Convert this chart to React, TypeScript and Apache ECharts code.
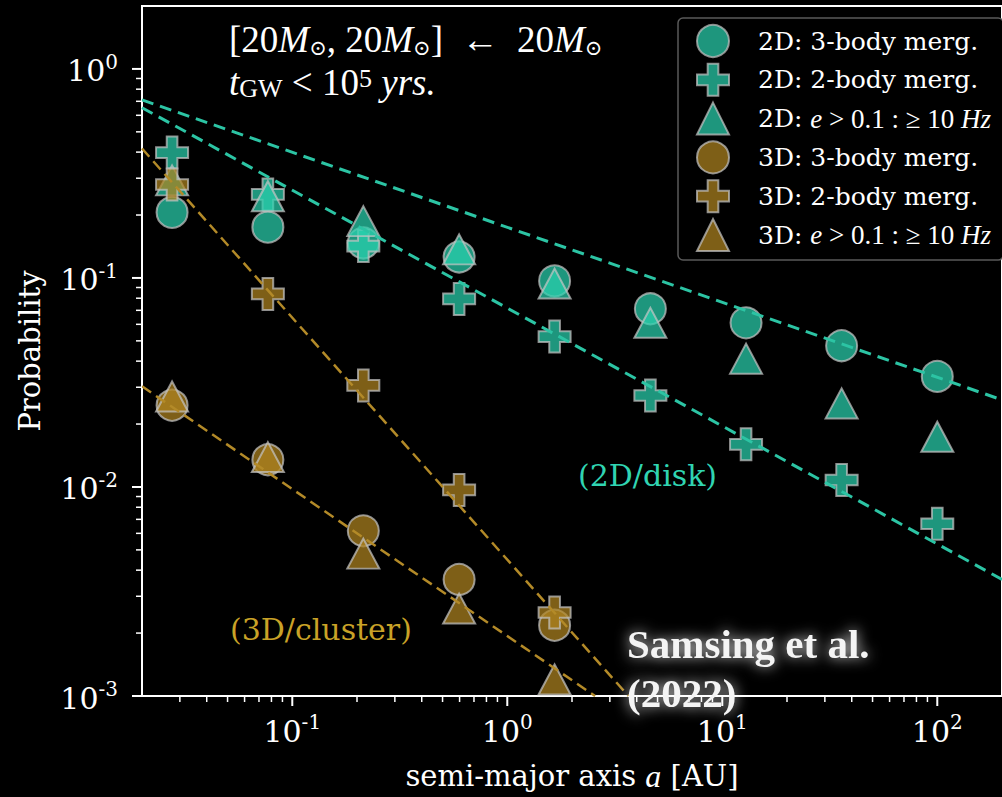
import React, { useEffect, useRef } from "react";
import * as echarts from "echarts";

// ---- data ----
const A_VALUES = [0.0276, 0.077, 0.214, 0.597, 1.66, 4.63, 12.9, 35.9, 100];
const P_2D_3BODY = [0.206, 0.175, 0.147, 0.126, 0.0968, 0.0712, 0.061, 0.0474, 0.0338];
const P_2D_2BODY = [0.398, 0.251, 0.142, 0.0794, 0.0524, 0.0274, 0.016, 0.0108, 0.00667];
const P_2D_ECC = [0.293, 0.246, 0.187, 0.137, 0.094, 0.061, 0.0411, 0.0251, 0.0174];
const P_3D_3BODY = [0.0246, 0.0135, 0.00617, 0.00361, 0.00218];
const P_3D_2BODY = [0.28, 0.0839, 0.0306, 0.00968, 0.00251];
const P_3D_ECC = [0.0271, 0.0139, 0.0048, 0.00262, 0.0012];

// dashed power-law guide lines (endpoints in data units)
const FIT_2D_3BODY = [[0.02, 0.711], [200, 0.0261]];
const FIT_2D_2BODY = [[0.02, 0.652], [200, 0.00361]];
const FIT_3D_2BODY = [[0.02, 0.416], [3.66, 0.001]];
const FIT_3D_3BODY = [[0.02, 0.0303], [2.56, 0.001]];

const X_MIN = 0.02;
const X_MAX = 200;
const Y_MIN = 0.001;
const Y_MAX = 2;
const X_MAJOR = [0.1, 1, 10, 100];
const Y_MAJOR = [0.001, 0.01, 0.1, 1];
const X_MINOR = [
  0.03, 0.04, 0.05, 0.06, 0.07, 0.08, 0.09,
  0.2, 0.3, 0.4, 0.5, 0.6, 0.7, 0.8, 0.9,
  2, 3, 4, 5, 6, 7, 8, 9,
  20, 30, 40, 50, 60, 70, 80, 90,
];
const Y_MINOR = [
  0.002, 0.003, 0.004, 0.005, 0.006, 0.007, 0.008, 0.009,
  0.02, 0.03, 0.04, 0.05, 0.06, 0.07, 0.08, 0.09,
  0.2, 0.3, 0.4, 0.5, 0.6, 0.7, 0.8, 0.9,
];

const NAMES = [
  "2D: 3-body merg.",
  "2D: 2-body merg.",
  "2D: e > 0.1 : ≥ 10 Hz",
  "3D: 3-body merg.",
  "3D: 2-body merg.",
  "3D: e > 0.1 : ≥ 10 Hz",
];

const SERIF = "DejaVu Serif";
const MATH = "Liberation Serif";
const TEAL = "#2ad0ad";
const GOLD = "#ae8420";
const TEAL_LINE = "#2cc4a4";
const GOLD_LINE = "#b38a28";
const PLUS = "path://M1,0H2V1H3V2H2V3H1V2H0V1H1Z";

const pts = (ps: number[]) => ps.map((p, i) => [A_VALUES[i], p]);

const scatter = (name: string, ps: number[], symbol: string, size: any, color: string) => ({
  name,
  type: "scatter",
  data: pts(ps),
  symbol,
  symbolSize: size,
  itemStyle: { color, opacity: 0.72, borderColor: "#c4c4c4", borderWidth: 2 },
  emphasis: { disabled: true },
  z: 2,
});

const fit = (data: number[][], color: string, width: number, dash: number[]) => ({
  type: "line",
  data,
  symbol: "none",
  showSymbol: false,
  silent: true,
  clip: true,
  lineStyle: { color, width, type: dash },
  z: 5,
});

// axis ticks placed through the axes' own scales
const ticks = (vals: number[], horizontal: boolean, len: number, width: number) => ({
  type: "scatter",
  silent: true,
  clip: false,
  z: 6,
  data: vals.map((v) => (horizontal ? [v, Y_MIN] : [X_MIN, v])),
  symbol: "rect",
  symbolSize: horizontal ? [width, len] : [len, width],
  symbolOffset: horizontal ? [0, len / 2] : [-len / 2, 0],
  itemStyle: { color: "#fff", opacity: 1 },
  emphasis: { disabled: true },
});

const powLabel = (v: number) => {
  const e = Math.round(Math.log10(v));
  return `{b|10}{s|${e}}`;
};
const labelRich = {
  b: { fontFamily: SERIF, fontSize: 30, color: "#fff", lineHeight: 34, verticalAlign: "bottom" },
  s: { fontFamily: SERIF, fontSize: 20, color: "#fff", lineHeight: 20, verticalAlign: "top" },
};

export default function App() {
  const ref = useRef<HTMLDivElement>(null);
  useEffect(() => {
    document.body.style.margin = "0";
    document.body.style.background = "#000";
    const chart = echarts.init(ref.current!, null, { renderer: "svg" });
    const axisLine = { color: "#fff", width: 2 };
    const legendRich = {
      sp: { width: 24, lineHeight: 28 },
      t: { fontFamily: SERIF, fontSize: 25, color: "#fff", lineHeight: 28 },
      m: { fontFamily: MATH, fontSize: 27, color: "#fff", lineHeight: 28 },
      i: { fontFamily: MATH, fontSize: 27, fontStyle: "italic", color: "#fff", lineHeight: 28 },
    };
    const option: any = {
      animation: false,
      backgroundColor: "#000",
      grid: {
        left: 142,
        right: -12,
        top: 6,
        bottom: 98,
        show: true,
        borderColor: "#fff",
        borderWidth: 2,
        backgroundColor: "transparent",
      },
      xAxis: {
        type: "log",
        logBase: 10,
        min: X_MIN,
        max: X_MAX,
        axisLine: { show: true, lineStyle: axisLine },
        axisTick: { show: false },
        axisLabel: { customValues: X_MAJOR, formatter: powLabel, rich: labelRich, margin: 16 },
        splitLine: { show: false },
        minorTick: { show: false },
        name: "semi-major axis {i|a} [AU]",
        nameLocation: "middle",
        nameGap: 64,
        nameTextStyle: {
          fontFamily: SERIF,
          fontSize: 29,
          color: "#fff",
          rich: { i: { fontFamily: MATH, fontStyle: "italic", fontSize: 32, color: "#fff" } },
        },
      },
      yAxis: {
        type: "log",
        logBase: 10,
        min: Y_MIN,
        max: Y_MAX,
        axisLine: { show: true, lineStyle: axisLine },
        axisTick: { show: false },
        axisLabel: { customValues: Y_MAJOR, formatter: powLabel, rich: labelRich, margin: 24 },
        splitLine: { show: false },
        name: "Probability",
        nameLocation: "middle",
        nameGap: 98,
        nameTextStyle: { fontFamily: SERIF, fontSize: 29, color: "#fff" },
      },
      legend: {
        data: NAMES,
        orient: "vertical",
        left: 678,
        top: 18,
        itemWidth: 32,
        itemHeight: 32,
        itemGap: 4.8,
        padding: [6, 12, 8, 18],
        backgroundColor: "#000",
        borderColor: "#5a5a5a",
        borderWidth: 1.5,
        borderRadius: 5,
        selectedMode: false,
        formatter: (name: string) => {
          if (name.indexOf("Hz") >= 0) {
            return `{sp| }{t|${name.slice(0, 4)}}{i|e}{m| > 0.1 : ≥ 10 }{i|Hz}`;
          }
          return `{sp| }{t|${name}}`;
        },
        textStyle: {
          color: "#fff",
          fontFamily: SERIF,
          fontSize: 25,
          lineHeight: 28,
          rich: legendRich,
        },
      },
      series: [
        fit(FIT_2D_3BODY, TEAL_LINE, 3, [12, 7]),
        fit(FIT_2D_2BODY, TEAL_LINE, 3, [12, 7]),
        fit(FIT_3D_2BODY, GOLD_LINE, 2.5, [11, 6]),
        fit(FIT_3D_3BODY, GOLD_LINE, 2.5, [11, 6]),
        scatter(NAMES[0], P_2D_3BODY, "circle", 31, TEAL),
        scatter(NAMES[1], P_2D_2BODY, PLUS, 32, TEAL),
        scatter(NAMES[2], P_2D_ECC, "triangle", [32, 30], TEAL),
        scatter(NAMES[3], P_3D_3BODY, "circle", 31, GOLD),
        scatter(NAMES[4], P_3D_2BODY, PLUS, 32, GOLD),
        scatter(NAMES[5], P_3D_ECC, "triangle", [32, 30], GOLD),
        ticks(X_MAJOR, true, 10, 2),
        ticks(Y_MAJOR, false, 10, 2),
        ticks(X_MINOR, true, 6, 1.5),
        ticks(Y_MINOR, false, 6, 1.5),
      ],
      graphic: [
        {
          type: "text",
          x: 229,
          y: 40,
          z: 10,
          style: {
            text: "{r|[20}{i|M}{s|⊙}{r|, 20}{i|M}{s|⊙}{r|]\u2002←\u200220}{i|M}{s|⊙}",
            verticalAlign: "middle",
            fill: "#fff",
            rich: {
              r: { fontFamily: MATH, fontSize: 37, fill: "#fff", lineHeight: 36, verticalAlign: "bottom" },
              i: { fontFamily: MATH, fontSize: 37, fontStyle: "italic", fill: "#fff", lineHeight: 36, verticalAlign: "bottom" },
              s: { fontFamily: SERIF, fontSize: 21, fill: "#fff", lineHeight: 22, verticalAlign: "bottom" },
            },
          },
        },
        {
          type: "text",
          x: 229,
          y: 83,
          z: 10,
          style: {
            text: "{i|t}{sub|GW}{r| < 10}{sup|5}{i| yrs.}",
            verticalAlign: "middle",
            fill: "#fff",
            rich: {
              r: { fontFamily: MATH, fontSize: 37, fill: "#fff", lineHeight: 36, verticalAlign: "bottom" },
              i: { fontFamily: MATH, fontSize: 37, fontStyle: "italic", fill: "#fff", lineHeight: 36, verticalAlign: "bottom" },
              sub: { fontFamily: MATH, fontSize: 26, fill: "#fff", lineHeight: 22, verticalAlign: "bottom" },
              sup: { fontFamily: MATH, fontSize: 26, fill: "#fff", lineHeight: 22, verticalAlign: "top" },
            },
          },
        },
        {
          type: "text",
          x: 578,
          y: 475,
          z: 10,
          style: {
            text: "(2D/disk)",
            fontFamily: SERIF,
            fontSize: 30,
            fill: "#30d4b2",
            verticalAlign: "middle",
          },
        },
        {
          type: "text",
          x: 230,
          y: 629,
          z: 10,
          style: {
            text: "(3D/cluster)",
            fontFamily: SERIF,
            fontSize: 30,
            fill: "#c9a227",
            verticalAlign: "middle",
          },
        },
        {
          type: "text",
          x: 627,
          y: 644,
          z: 20,
          style: {
            text: "Samsing et al.",
            fontFamily: MATH,
            fontWeight: "bold",
            fontSize: 41,
            lineHeight: 40,
            fill: "#f4f4f4",
            verticalAlign: "middle",
            textShadowColor: "rgba(255,255,255,0.9)",
            textShadowBlur: 14,
          },
        },
        {
          type: "text",
          x: 627,
          y: 693,
          z: 20,
          style: {
            text: "(2022)",
            fontFamily: MATH,
            fontWeight: "bold",
            fontSize: 41,
            lineHeight: 38,
            fill: "#f4f4f4",
            verticalAlign: "middle",
            textShadowColor: "rgba(255,255,255,0.9)",
            textShadowBlur: 14,
          },
        },
      ],
    };
    chart.setOption(option);
    return () => chart.dispose();
  }, []);
  return (
    <div
      ref={ref}
      style={{ position: "fixed", left: 0, top: 0, width: 1002, height: 797, background: "#000" }}
    />
  );
}
